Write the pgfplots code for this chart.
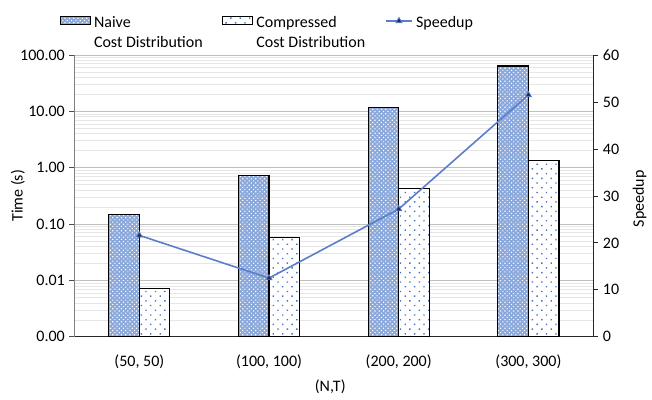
\documentclass[border=0pt]{standalone}
\usepackage{fontspec}
\setmainfont{Carlito}
\usepackage{pgfplots}
\pgfplotsset{compat=1.18}
\usetikzlibrary{patterns,patterns.meta}

\definecolor{barblue}{HTML}{4472C4}
\definecolor{lineblue}{HTML}{5A7ECB}
\definecolor{mkfill}{HTML}{1F2A55}
\definecolor{majgrid}{HTML}{BFBFBF}
\definecolor{mingrid}{HTML}{E6E6E6}

\newcommand{\twoline}[2]{\parbox[t]{96.35pt}{\baselineskip=15pt #1\\#2}}

\pgfplotsset{
  barlegend/.style={legend image code/.code={\draw[##1] (0pt,2.5pt) rectangle (22.5pt,8.25pt);}},
  linelegend/.style={legend image code/.code={\draw[##1, sharp plot, mark repeat=2, mark phase=2] plot coordinates {(0pt,5pt) (10pt,5pt) (20pt,5pt)};}},
  naivestyle/.style={draw=black, line width=0.8pt, fill=barblue!62,
    postaction={pattern={Dots[angle=45,distance=2.3pt,radius=0.6pt]}, pattern color=white}},
  compstyle/.style={draw=black, line width=0.8pt, fill=white,
    postaction={pattern={Dots[angle=45,distance=5pt,radius=0.72pt]}, pattern color=barblue}},
  speedstyle/.style={color=lineblue, line width=1.2pt, mark=triangle*, mark size=2.6pt,
    mark options={fill=mkfill, draw=lineblue, line width=0.6pt}},
}

\begin{document}
\begin{tikzpicture}[font=\fontsize{12}{16.3}\selectfont]
\useasboundingbox (-55.9pt,-47.25pt) rectangle (433.35pt,252.75pt);

\begin{axis}[
  at={(0,0)}, anchor=south west, scale only axis,
  width=389.25pt, height=211.5pt,
  ymode=log, ymin=0.001, ymax=100, log origin y=infty,
  xmin=-0.5, xmax=3.5,
  xtick={0,1,2,3},
  xticklabels={{(50, 50)},{(100, 100)},{(200, 200)},{(300, 300)}},
  x tick style={draw=none},
  xticklabel style={inner sep=0pt, anchor=center, yshift=-15pt},
  xlabel={(N,T)},
  every axis x label/.style={at={(axis description cs:0.493,-0.178)}, anchor=center},
  ylabel={Time (s)},
  every axis y label/.style={at={(axis description cs:-0.109,0.5)}, rotate=90, anchor=center},
  axis x line*=bottom, axis y line*=left,
  x axis line style={black!85, line width=0.8pt},
  y axis line style={black!50, line width=0.6pt},
  ytick={0.001,0.01,0.1,1,10,100},
  yticklabel={\pgfmathparse{exp(\tick)}\pgfmathprintnumber[fixed,fixed zerofill,precision=2,assume math mode=true]{\pgfmathresult}},
  tick align=outside, major tick length=3.75pt, minor tick length=0pt,
  y tick style={black!70, line width=0.6pt},
  ymajorgrids=true, yminorgrids=true,
  major grid style={majgrid, line width=0.7pt},
  minor grid style={mingrid, line width=0.5pt},
  ybar=0pt, bar width=0.236,
  legend columns=3,
  legend style={draw=none, fill=none, inner sep=0pt, outer sep=0pt,
    at={(axis description cs:-0.028,1.138)}, anchor=north west,
    nodes={inner sep=0pt, anchor=base west},
    /tikz/every odd column/.append style={column sep=2.25pt},
    /tikz/every even column/.append style={column sep=0pt}},
]
\addplot[naivestyle, barlegend]
  coordinates {(0,0.146) (1,0.72) (2,11.8) (3,63.8)};
\addlegendentry{\twoline{Naive}{Cost Distribution}}
\addplot[compstyle, barlegend]
  coordinates {(0,0.0071) (1,0.057) (2,0.43) (3,1.34)};
\addlegendentry{\twoline{Compressed}{Cost Distribution}}
\addlegendimage{speedstyle, linelegend}
\addlegendentry{Speedup}
\end{axis}

\begin{axis}[
  at={(0,0)}, anchor=south west, scale only axis,
  width=389.25pt, height=211.5pt,
  xmin=-0.5, xmax=3.5, ymin=0, ymax=60,
  axis y line*=right, axis x line=none,
  y axis line style={black!85, line width=0.7pt},
  ytick={0,10,20,30,40,50,60},
  /pgf/number format/assume math mode=true,
  tick align=outside, major tick length=3.75pt,
  y tick style={black!85, line width=0.6pt},
  ylabel={Speedup},
  every axis y label/.style={at={(axis description cs:1.0896,0.49)}, rotate=90, anchor=center},
]
\addplot[speedstyle] coordinates {(0,21.6) (1,12.5) (2,27.2) (3,51.5)};
\end{axis}
\end{tikzpicture}
\end{document}
